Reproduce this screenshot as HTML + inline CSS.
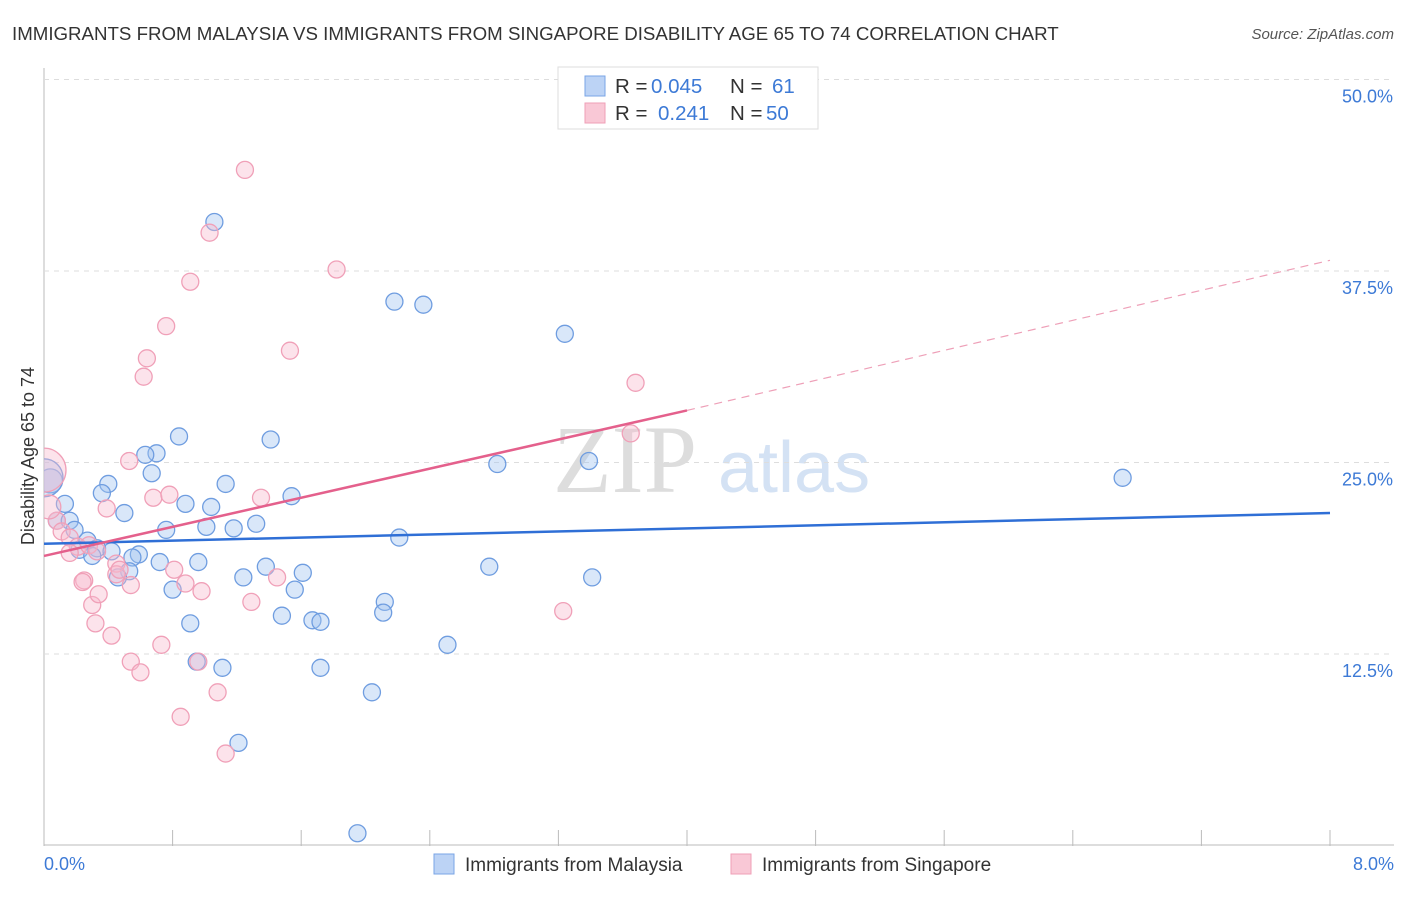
<!DOCTYPE html>
<html><head><meta charset="utf-8"><style>
body{margin:0;background:#fff;font-family:"Liberation Sans",sans-serif;}
</style></head><body>
<svg id="c" width="1406" height="892" xmlns="http://www.w3.org/2000/svg">
<defs><clipPath id="pc"><rect x="44" y="60" width="1360" height="786"/></clipPath></defs>
<text x="12" y="40" font-size="18.7" fill="#333">IMMIGRANTS FROM MALAYSIA VS IMMIGRANTS FROM SINGAPORE DISABILITY AGE 65 TO 74 CORRELATION CHART</text>
<text x="1394" y="39" font-size="15" fill="#555" font-style="italic" text-anchor="end">Source: ZipAtlas.com</text>
<text x="553" y="492" font-size="96" fill="#ddd" font-family="Liberation Serif">ZIP</text>
<text x="718" y="492" font-size="72" fill="#d4e2f4">atlas</text>
<g id="grid"></g><g id="pts" clip-path="url(#pc)"></g><g id="lines"></g>
<text x="34" y="456" font-size="18" fill="#333" transform="rotate(-90 34 456)" text-anchor="middle">Disability Age 65 to 74</text>
<text x="44" y="870" font-size="18" fill="#3d7ad6">0.0%</text>
<text x="1394" y="870" font-size="18" fill="#3d7ad6" text-anchor="end">8.0%</text>
<g>
<rect x="558" y="67" width="260" height="62" fill="#fff" stroke="#ddd"/>
<rect x="585" y="76" width="20" height="20" fill="#bcd3f5" stroke="#7aa5e6"/>
<rect x="585" y="103" width="20" height="20" fill="#f9c8d6" stroke="#ef9fb7"/>
<text x="615" y="93" font-size="20.5" fill="#333">R = <tspan fill="#3d7ad6" x="651">0.045</tspan><tspan x="730">N = </tspan><tspan fill="#3d7ad6" x="772">61</tspan></text>
<text x="615" y="120" font-size="20.5" fill="#333">R = <tspan fill="#3d7ad6" x="658">0.241</tspan><tspan x="730">N = </tspan><tspan fill="#3d7ad6" x="766">50</tspan></text>
</g>
<g>
<rect x="434" y="854" width="20" height="20" fill="#bcd3f5" stroke="#7aa5e6"/>
<text x="465" y="871" font-size="19" fill="#333">Immigrants from Malaysia</text>
<rect x="731" y="854" width="20" height="20" fill="#f9c8d6" stroke="#ef9fb7"/>
<text x="762" y="871" font-size="19" fill="#333">Immigrants from Singapore</text>
</g>
</svg>
<script>
const yTicks=[12.5,25,37.5,50];
const yTickLabels=["12.5%","25.0%","37.5%","50.0%"];
const xTicks=[0,0.8,1.6,2.4,3.2,4.0,4.8,5.6,6.4,7.2,8.0];
const malaysiaX=[1.06,2.18,2.36,3.24,0.84,1.41,0.70,0.63,2.82,3.39,6.71,0.67,0.40,1.13,0.36,0.13,0.88,1.04,1.54,0.50,0.08,0.16,0.19,1.01,1.18,1.32,0.76,2.21,0.27,0.22,0.33,0.42,0.59,0.55,0.30,0.72,0.96,1.38,2.77,0.53,0.46,1.24,1.61,3.41,0.80,1.56,2.12,1.48,2.11,1.67,1.72,0.91,2.51,0.95,1.11,1.72,2.04,1.21,1.95,0.04,0.00];
const malaysiaY=[40.7,35.5,35.3,33.4,26.7,26.5,25.6,25.5,24.9,25.1,24.0,24.3,23.6,23.6,23.0,22.3,22.3,22.1,22.8,21.7,21.2,21.2,20.6,20.8,20.7,21.0,20.6,20.1,19.9,19.3,19.4,19.2,19.0,18.8,18.9,18.5,18.5,18.2,18.2,17.9,17.5,17.5,17.8,17.5,16.7,16.7,15.9,15.0,15.2,14.7,14.6,14.5,13.1,12.0,11.6,11.6,10.0,6.7,0.8,23.8,24.0];
const singaporeX=[1.25,1.03,0.91,1.82,0.76,1.53,0.64,0.62,3.68,3.65,0.53,0.68,0.78,1.35,0.39,0.08,0.11,0.16,0.21,0.28,0.16,0.33,0.45,0.45,0.47,0.54,0.81,1.45,0.88,0.25,0.24,0.98,0.30,1.29,3.23,0.34,0.32,0.42,0.73,0.54,0.96,0.60,1.08,0.85,1.13,0.00,0.03];
const singaporeY=[44.1,40.0,36.8,37.6,33.9,32.3,31.8,30.6,30.2,26.9,25.1,22.7,22.9,22.7,22.0,21.2,20.5,20.1,19.5,19.6,19.1,19.2,18.4,17.7,18.0,17.0,18.0,17.5,17.1,17.3,17.2,16.6,15.7,15.9,15.3,16.4,14.5,13.7,13.1,12.0,12.0,11.3,10.0,8.4,6.0,24.5,22.1];
const blueLine=[0,19.7,8,21.7];
const pinkLine=[0,18.9,4,28.4];
const pinkDash=[4,28.4,8,38.2];
const X=v=>44+v*160.75, Y=v=>845.5-v*15.32;
const ns="http://www.w3.org/2000/svg";
function mk(t,a,p){const e=document.createElementNS(ns,t);for(const k in a)e.setAttribute(k,a[k]);p.appendChild(e);return e;}
const grid=document.getElementById('grid');
mk('line',{x1:44,y1:68,x2:44,y2:846,stroke:'#bbb'},grid);
mk('line',{x1:44,y1:845,x2:1394,y2:845,stroke:'#bbb'},grid);
xTicks.forEach(t=>{const l=mk('line',{x1:X(t),y1:830,x2:X(t),y2:846,stroke:'#bbb'},grid);

});
yTicks.forEach((t,i)=>{const l=mk('line',{x1:44,y1:Y(t),x2:1394,y2:Y(t),stroke:'#ddd','stroke-dasharray':'5,5'},grid);


const tx=mk('text',{x:1393,y:Y(t)+23,'font-size':18,fill:'#3d7ad6','text-anchor':'end'},grid);tx.textContent=yTickLabels[i];

});
const pts=document.getElementById('pts');
malaysiaX.forEach((x,i)=>{const r=i>=59?(i==60?19:12):8.5;const c=mk('circle',{cx:X(x),cy:Y(malaysiaY[i]),r:r,fill:'rgba(160,195,240,0.4)',stroke:'#6f9de0','stroke-width':1.3},pts);

});
singaporeX.forEach((x,i)=>{const r=i>=45?(i==45?22:12):8.5;const c=mk('circle',{cx:X(x),cy:Y(singaporeY[i]),r:r,fill:'rgba(248,185,205,0.4)',stroke:'#f0a0b8','stroke-width':1.3},pts);

});
const L=document.getElementById('lines');
let e=mk('line',{x1:X(blueLine[0]),y1:Y(blueLine[1]),x2:X(blueLine[2]),y2:Y(blueLine[3]),stroke:'#2f6fd6','stroke-width':2.5},L);


e=mk('line',{x1:X(pinkLine[0]),y1:Y(pinkLine[1]),x2:X(pinkLine[2]),y2:Y(pinkLine[3]),stroke:'#e4608c','stroke-width':2.5},L);


e=mk('line',{x1:X(pinkDash[0]),y1:Y(pinkDash[1]),x2:X(pinkDash[2]),y2:Y(pinkDash[3]),stroke:'#eea0b8','stroke-width':1.2,'stroke-dasharray':'8,6'},L);


</script>
</body></html>
